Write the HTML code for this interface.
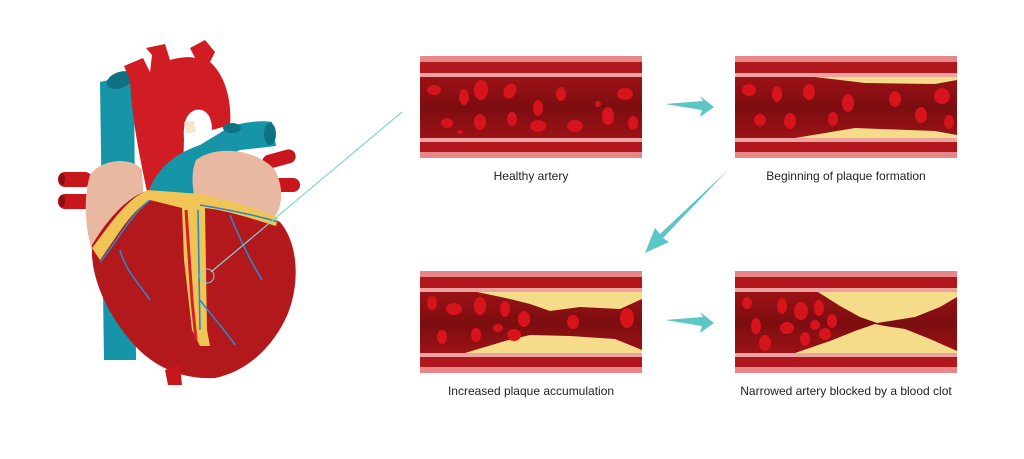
<!DOCTYPE html>
<html><head><meta charset="utf-8"><style>
html,body{margin:0;padding:0;background:#fff;}
svg{display:block}
text{font-family:"Liberation Sans",sans-serif;font-size:12px;fill:#222}
</style></head><body>
<svg width="1024" height="459" viewBox="0 0 1024 459" xmlns="http://www.w3.org/2000/svg">
<defs>
<linearGradient id="lum" x1="0" y1="0" x2="0" y2="1">
<stop offset="0" stop-color="#9c1216"/><stop offset="0.5" stop-color="#7c0d10"/><stop offset="1" stop-color="#9c1216"/>
</linearGradient>
</defs>

<!-- HEART -->
<g>
<rect x="58" y="172" width="34" height="15" rx="7" fill="#c8161d"/>
<rect x="58" y="194" width="34" height="15" rx="7" fill="#c8161d"/>
<ellipse cx="62" cy="179" rx="3" ry="6" fill="#8a0e12"/>
<ellipse cx="62" cy="201" rx="3" ry="6" fill="#8a0e12"/>
<rect x="262" y="152" width="34" height="14" rx="7" fill="#c8161d" transform="rotate(-15 279 159)"/>
<rect x="268" y="178" width="32" height="14" rx="7" fill="#c8161d"/>
<!-- vena cava -->
<path d="M100 82 L134 74 L136 360 L104 360 Z" fill="#1795a8"/>
<ellipse cx="120" cy="80" rx="14" ry="8" fill="#0e7282" transform="rotate(-20 120 80)"/>
<!-- aorta -->
<path d="M130 80 L124 66 L143 58 L150 72 L152 55 L146 48 L165 44 L170 60 C178 58 188 56 195 58 L190 48 L205 40 L215 52 L210 62 C225 75 232 100 230 125 L212 130 C212 115 205 108 195 110 C185 114 183 125 184 140 L182 200 L150 205 C140 160 132 120 130 80 Z" fill="#d01d24"/>
<path d="M184 122 L194 121 L196 132 L186 134 Z" fill="#f3e6d0"/>
<!-- pulmonary -->
<path d="M145 205 C150 175 170 155 200 145 L228 128 C240 122 262 120 272 122 L276 146 L240 150 C215 160 195 180 190 205 Z" fill="#1795a8"/>
<ellipse cx="270" cy="134" rx="6" ry="11" fill="#0e7282"/>
<ellipse cx="232" cy="128" rx="9" ry="5" fill="#0e7282"/>
<!-- atria -->
<path d="M90 175 C100 160 130 155 142 170 L146 240 L92 250 C84 225 84 195 90 175 Z" fill="#e9b8a0"/>
<path d="M196 160 C215 145 255 148 275 170 C285 190 282 210 272 220 L200 212 C192 195 190 175 196 160 Z" fill="#e9b8a0"/>
<!-- ventricles -->
<path d="M92 245 C110 215 130 195 150 190 L200 195 C230 200 260 210 280 222 C300 245 300 290 285 320 C270 350 245 372 215 378 C180 380 150 365 130 340 C105 310 90 275 92 245 Z" fill="#b3181d"/>
<path d="M180 365 L165 370 L168 385 L182 385 Z" fill="#c8161d"/>
<!-- fat -->
<path d="M92 248 C110 225 125 200 148 190 L200 194 C230 200 255 208 278 218 L276 226 C250 218 225 210 205 208 L207 330 L210 346 L200 346 L192 330 L184 260 L182 208 L150 200 C130 212 118 235 100 260 Z" fill="#f0c556"/>
<path d="M186 210 L192 300 L196 340" stroke="#d42028" stroke-width="3" fill="none"/>
<path d="M150 200 C130 215 115 245 100 262 M200 205 C230 210 255 215 278 222 M198 210 L200 330 M120 250 C125 270 140 285 150 300 M230 215 C240 240 250 260 262 280 M200 300 C215 320 225 330 235 345" stroke="#2a88c4" stroke-width="1.6" fill="none"/>
<circle cx="207" cy="276" r="7" fill="none" stroke="#7fd3d6" stroke-width="1"/>
</g>
<line x1="211" y1="272" x2="402" y2="112" stroke="#7fd3d6" stroke-width="1.2"/>

<!-- PANEL 1 -->
<g transform="translate(420,56)">
<rect width="222" height="102" fill="#e8878a"/>
<rect y="6" width="222" height="90" fill="#b0181d"/>
<rect y="17" width="222" height="4" fill="#eda39f"/>
<rect y="21" width="222" height="61" fill="url(#lum)"/>
<rect y="82" width="222" height="4" fill="#eda39f"/>
<g fill="#d7131b">
<ellipse cx="14" cy="34" rx="7" ry="5"/><ellipse cx="44" cy="41" rx="5" ry="8"/><ellipse cx="61" cy="34" rx="7" ry="10"/><ellipse cx="90" cy="35" rx="6" ry="8" transform="rotate(30 90 35)"/>
<ellipse cx="118" cy="52" rx="5" ry="8"/><ellipse cx="141" cy="38" rx="5" ry="7"/><ellipse cx="205" cy="38" rx="8" ry="6"/>
<ellipse cx="27" cy="67" rx="6" ry="5"/><ellipse cx="60" cy="66" rx="6" ry="8"/><ellipse cx="92" cy="63" rx="5" ry="7"/><ellipse cx="118" cy="70" rx="8" ry="6"/><ellipse cx="155" cy="70" rx="8" ry="6"/><ellipse cx="188" cy="60" rx="6" ry="9"/><ellipse cx="213" cy="67" rx="5" ry="7"/><ellipse cx="40" cy="76" rx="3" ry="2"/><ellipse cx="178" cy="48" rx="3" ry="3"/>
</g>
</g>
<!-- PANEL 2 -->
<g transform="translate(735,56)">
<rect width="222" height="102" fill="#e8878a"/>
<rect y="6" width="222" height="90" fill="#b0181d"/>
<rect y="17" width="222" height="4" fill="#eda39f"/>
<rect y="21" width="222" height="61" fill="url(#lum)"/>
<rect y="82" width="222" height="4" fill="#eda39f"/>
<path d="M80 21 L222 21 L222 24 L200 28 L130 27 Z" fill="#f5dc8a"/>
<path d="M60 82 L222 82 L222 79 L200 75 L120 72 Z" fill="#f5dc8a"/>
<g fill="#d7131b">
<ellipse cx="14" cy="34" rx="7" ry="6"/><ellipse cx="42" cy="38" rx="5" ry="8"/><ellipse cx="74" cy="36" rx="6" ry="8"/><ellipse cx="113" cy="47" rx="6" ry="9"/><ellipse cx="160" cy="43" rx="6" ry="8"/><ellipse cx="207" cy="40" rx="8" ry="8"/>
<ellipse cx="25" cy="64" rx="6" ry="6"/><ellipse cx="55" cy="65" rx="6" ry="8"/><ellipse cx="98" cy="63" rx="5" ry="7"/><ellipse cx="186" cy="59" rx="6" ry="8"/><ellipse cx="214" cy="66" rx="5" ry="7"/>
</g>
</g>
<!-- PANEL 3 -->
<g transform="translate(420,271)">
<rect width="222" height="102" fill="#e8878a"/>
<rect y="6" width="222" height="90" fill="#b0181d"/>
<rect y="17" width="222" height="4" fill="#eda39f"/>
<rect y="21" width="222" height="61" fill="url(#lum)"/>
<rect y="82" width="222" height="4" fill="#eda39f"/>
<path d="M57 21 L222 21 L222 28 L200 38 L160 36 L130 40 L110 33 L90 28 Z" fill="#f5dc8a"/>
<path d="M45 82 L222 82 L222 79 L195 68 L150 65 L110 64 L85 70 Z" fill="#f5dc8a"/>
<g fill="#d7131b">
<ellipse cx="12" cy="32" rx="5" ry="7"/><ellipse cx="34" cy="38" rx="8" ry="6"/><ellipse cx="60" cy="35" rx="6" ry="9"/><ellipse cx="85" cy="38" rx="5" ry="8"/><ellipse cx="104" cy="48" rx="6" ry="8"/><ellipse cx="153" cy="51" rx="6" ry="7"/><ellipse cx="207" cy="47" rx="7" ry="10"/>
<ellipse cx="22" cy="66" rx="5" ry="7"/><ellipse cx="56" cy="64" rx="5" ry="7"/><ellipse cx="78" cy="57" rx="5" ry="4"/><ellipse cx="94" cy="64" rx="7" ry="6"/>
</g>
</g>
<!-- PANEL 4 -->
<g transform="translate(735,271)">
<rect width="222" height="102" fill="#e8878a"/>
<rect y="6" width="222" height="90" fill="#b0181d"/>
<rect y="17" width="222" height="4" fill="#eda39f"/>
<rect y="21" width="222" height="61" fill="url(#lum)"/>
<rect y="82" width="222" height="4" fill="#eda39f"/>
<path d="M83 21 L222 21 L222 26 L205 36 L180 46 L155 50 L142 52 L125 46 L105 35 Z" fill="#f5dc8a"/>
<path d="M60 82 L222 82 L222 80 L195 68 L170 58 L150 55 L140 53 L120 60 L95 70 Z" fill="#f5dc8a"/>
<g fill="#d7131b">
<ellipse cx="12" cy="32" rx="5" ry="6"/><ellipse cx="47" cy="35" rx="5" ry="8"/><ellipse cx="66" cy="40" rx="7" ry="9"/><ellipse cx="84" cy="37" rx="5" ry="8"/><ellipse cx="97" cy="50" rx="5" ry="7"/>
<ellipse cx="21" cy="55" rx="5" ry="8"/><ellipse cx="52" cy="57" rx="7" ry="6"/><ellipse cx="80" cy="54" rx="5" ry="5"/><ellipse cx="90" cy="63" rx="6" ry="6"/><ellipse cx="30" cy="72" rx="6" ry="8"/><ellipse cx="70" cy="68" rx="5" ry="7"/>
</g>
</g>

<!-- arrows -->
<g fill="#5cc6c6">
<path d="M665 104 L703 101 L700 96 L714 107 L700 117 L702 110 Z"/>
<path d="M665 320 L703 317 L700 312 L714 323 L700 333 L702 326 Z"/>
<path d="M728 170 L660 234 L655 228 L645 253 L669 242 L663 238 Z"/>
</g>

<text x="531" y="180" text-anchor="middle">Healthy artery</text>
<text x="846" y="180" text-anchor="middle">Beginning of plaque formation</text>
<text x="531" y="395" text-anchor="middle">Increased plaque accumulation</text>
<text x="846" y="395" text-anchor="middle">Narrowed artery blocked by a blood clot</text>
</svg>
</body></html>
